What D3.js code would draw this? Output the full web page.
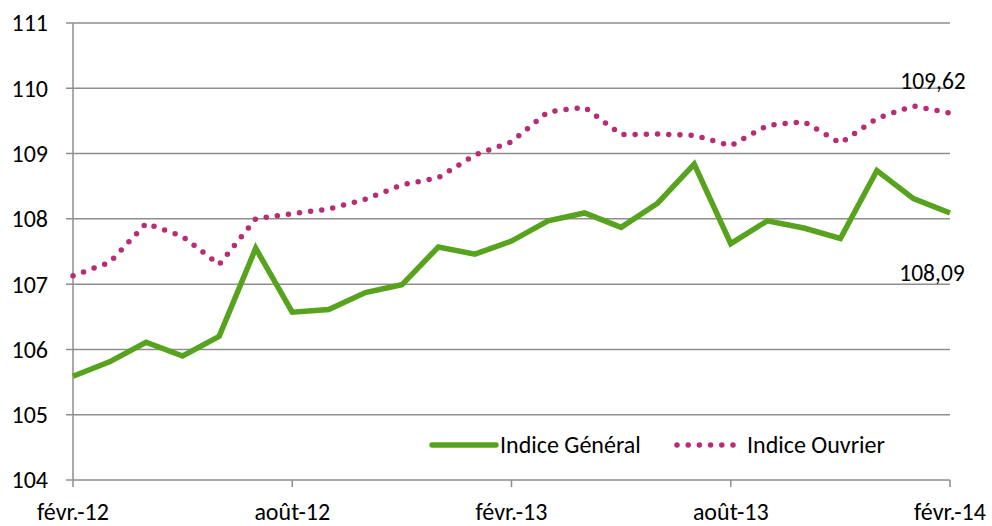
<!DOCTYPE html>
<html>
<head>
<meta charset="utf-8">
<script src="https://cdn.jsdelivr.net/npm/d3@7"></script>
<style>
  body { margin: 0; background: #fff; }
  svg text { font-family: Carlito, Calibri, Lato, "Open Sans", sans-serif; fill: #000; }
</style>
</head>
<body>
<svg id="chart" width="992" height="526"></svg>
<script>
// Monthly values, févr. 2012 -> févr. 2014
const months = d3.range(25).map(i => new Date(2012, 1 + i, 1));
const indiceGeneral = [105.59, 105.81, 106.11, 105.90, 106.20, 107.55, 106.57, 106.61, 106.87, 106.99,
  107.57, 107.46, 107.66, 107.97, 108.09, 107.87, 108.24, 108.84, 107.62, 107.97,
  107.86, 107.70, 108.74, 108.31, 108.09];
const indiceOuvrier = [107.13, 107.33, 107.93, 107.73, 107.30, 108.00, 108.08, 108.15, 108.30, 108.52,
  108.63, 108.98, 109.18, 109.64, 109.71, 109.29, 109.30, 109.28, 109.12, 109.43,
  109.49, 109.16, 109.54, 109.73, 109.62];
const yTicks = [104, 105, 106, 107, 108, 109, 110, 111];
const xTickIdx = [0, 6, 12, 18, 24];
const xTickLabels = ['févr.-12', 'août-12', 'févr.-13', 'août-13', 'févr.-14'];
const seriesNames = ['Indice Général', 'Indice Ouvrier'];

const green = '#58a31d';
const pink = '#b72c73';
const grid = '#8e8e8e';

const svg = d3.select('#chart');
const margin = { left: 73, right: 42, top: 23, bottom: 46 };
const width = 992 - margin.left - margin.right;
const height = 526 - margin.top - margin.bottom;

const x = d3.scaleLinear().domain([0, 24]).range([margin.left, margin.left + width]);
const y = d3.scaleLinear().domain([104, 111]).range([margin.top + height, margin.top]);

// horizontal gridlines
svg.append('g')
  .selectAll('line')
  .data(yTicks)
  .join('line')
  .attr('x1', margin.left - 7)
  .attr('x2', margin.left + width)
  .attr('y1', d => y(d))
  .attr('y2', d => y(d))
  .attr('stroke', grid)
  .attr('stroke-width', 1.5);

// y axis line
svg.append('line')
  .attr('x1', margin.left).attr('x2', margin.left)
  .attr('y1', y(111)).attr('y2', y(104))
  .attr('stroke', grid).attr('stroke-width', 1.5);

// x ticks
svg.append('g')
  .selectAll('line')
  .data(xTickIdx)
  .join('line')
  .attr('x1', d => x(d)).attr('x2', d => x(d))
  .attr('y1', y(104)).attr('y2', y(104) + 7)
  .attr('stroke', grid).attr('stroke-width', 1.5);

// y tick labels
svg.append('g')
  .selectAll('text')
  .data(yTicks)
  .join('text')
  .attr('x', 48)
  .attr('y', d => y(d))
  .attr('dy', '0.35em')
  .attr('text-anchor', 'end')
  .style('font-size', '24px')
  .text(d => d);

// x tick labels
svg.append('g')
  .selectAll('text')
  .data(xTickIdx)
  .join('text')
  .attr('x', d => x(d))
  .attr('y', 520)
  .attr('text-anchor', 'middle')
  .style('font-size', '24px')
  .text((d, i) => xTickLabels[i]);

const line = d3.line().x((d, i) => x(i)).y(d => y(d));

svg.append('path')
  .datum(indiceGeneral)
  .attr('d', line)
  .attr('fill', 'none')
  .attr('stroke', green)
  .attr('stroke-width', 5.5)
  .attr('stroke-linejoin', 'miter');

svg.append('path')
  .datum(indiceOuvrier)
  .attr('d', line)
  .attr('fill', 'none')
  .attr('stroke', pink)
  .attr('stroke-width', 5.5)
  .attr('stroke-linecap', 'round')
  .attr('stroke-dasharray', '0 11.2');

// end labels
const fmt = v => v.toFixed(2).replace('.', ',');
svg.append('text')
  .attr('x', x(24) - 17).attr('y', y(indiceOuvrier[24]) - 24)
  .attr('text-anchor', 'middle')
  .style('font-size', '23.5px')
  .text(fmt(indiceOuvrier[24]));
svg.append('text')
  .attr('x', x(24) - 18).attr('y', y(indiceGeneral[24]) + 68)
  .attr('text-anchor', 'middle')
  .style('font-size', '23.5px')
  .text(fmt(indiceGeneral[24]));

// legend
const lg = svg.append('g');
lg.append('line')
  .attr('x1', 432).attr('x2', 496).attr('y1', 445).attr('y2', 445)
  .attr('stroke', green).attr('stroke-width', 5.5).attr('stroke-linecap', 'round');
lg.append('text')
  .attr('x', 500).attr('y', 445).attr('dy', '0.35em')
  .style('font-size', '24px')
  .text(seriesNames[0]);
lg.append('line')
  .attr('x1', 677).attr('x2', 734).attr('y1', 445).attr('y2', 445)
  .attr('stroke', pink).attr('stroke-width', 5.5).attr('stroke-linecap', 'round')
  .attr('stroke-dasharray', '0 11.2');
lg.append('text')
  .attr('x', 747).attr('y', 445).attr('dy', '0.35em')
  .style('font-size', '24px')
  .text(seriesNames[1]);
</script>
</body>
</html>
